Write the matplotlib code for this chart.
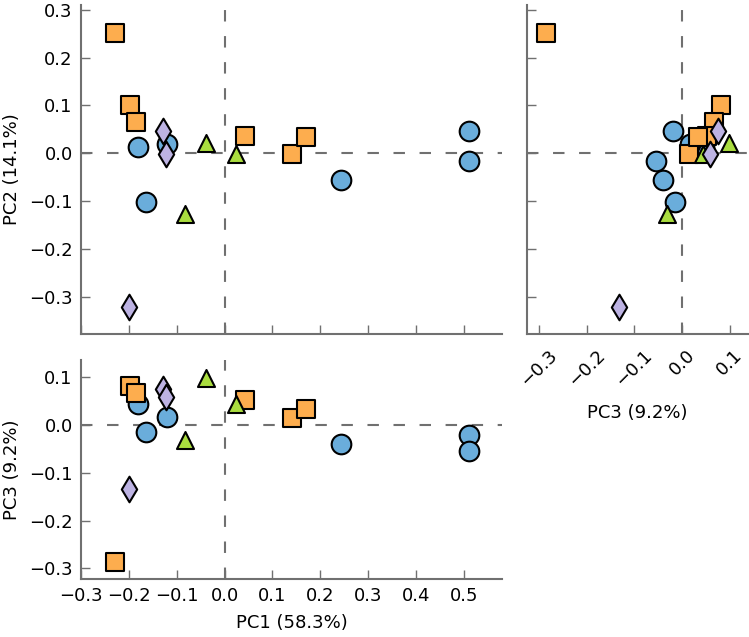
import matplotlib.pyplot as plt
import numpy as np

# PCA scores per group: PC1, PC2, PC3
circle_pc1 = [-0.181, -0.120, -0.165, 0.244, 0.510, 0.510]
circle_pc2 = [0.013, 0.020, -0.103, -0.057, 0.046, -0.016]
circle_pc3 = [0.045, 0.016, -0.014, -0.040, -0.020, -0.054]

square_pc1 = [-0.228, -0.197, -0.186, 0.043, 0.142, 0.171]
square_pc2 = [0.252, 0.100, 0.065, 0.037, -0.001, 0.034]
square_pc3 = [-0.286, 0.082, 0.067, 0.052, 0.014, 0.033]

triangle_pc1 = [-0.038, 0.025, -0.082]
triangle_pc2 = [0.022, -0.002, -0.128]
triangle_pc3 = [0.098, 0.044, -0.032]

diamond_pc1 = [-0.129, -0.123, -0.199]
diamond_pc2 = [0.047, -0.002, -0.321]
diamond_pc3 = [0.076, 0.059, -0.133]

groups = [
    (circle_pc1, circle_pc2, circle_pc3, "o", "#6aaddb", 200),
    (square_pc1, square_pc2, square_pc3, "s", "#fdad4e", 165),
    (triangle_pc1, triangle_pc2, triangle_pc3, "^", "#aadd3f", 150),
    (diamond_pc1, diamond_pc2, diamond_pc3, "d", "#bdb3e3", 170),
]

W, H = 749, 637
fig = plt.figure(figsize=(W / 100, H / 100), dpi=100)
plt.rcParams["font.family"] = "DejaVu Sans"
fs = 13

ax12 = fig.add_axes([81 / W, 1 - 334 / H, 421 / W, 329 / H])
ax32 = fig.add_axes([527 / W, 1 - 334 / H, 221 / W, 329 / H])
ax13 = fig.add_axes([81 / W, 1 - 579 / H, 421 / W, 219 / H])

gray = "#707070"


def style(ax):
    ax.spines["top"].set_visible(False)
    ax.spines["right"].set_visible(False)
    ax.spines["left"].set_color(gray)
    ax.spines["bottom"].set_color(gray)
    ax.spines["left"].set_linewidth(1.5)
    ax.spines["bottom"].set_linewidth(1.5)
    ax.tick_params(direction="in", length=6.5, width=1, color=gray, labelsize=fs, pad=6)
    ax.axhline(0, color=gray, lw=1.5, ls=(0, (5.5, 7)), zorder=1)
    ax.axvline(0, color=gray, lw=1.5, ls=(0, (5.5, 7)), zorder=1)


for ax in [ax12, ax32, ax13]:
    style(ax)

for p1, p2, p3, m, c, s in groups:
    ax12.scatter(p1, p2, marker=m, c=c, s=s, edgecolors="black", linewidths=1.5, zorder=3)
    ax32.scatter(p3, p2, marker=m, c=c, s=s, edgecolors="black", linewidths=1.5, zorder=3)
    ax13.scatter(p1, p3, marker=m, c=c, s=s, edgecolors="black", linewidths=1.5, zorder=3)

pc1_ticks = np.arange(-0.3, 0.51, 0.1)
ax12.set_xlim(-0.3, 0.58)
ax12.set_ylim(-0.378, 0.31)
ax12.set_xticks(pc1_ticks)
ax12.set_xticklabels([])
ax12.set_yticks(np.arange(-0.3, 0.31, 0.1))
ax12.set_ylabel("PC2 (14.1%)", fontsize=fs, labelpad=6)

ax32.set_xlim(-0.325, 0.138)
ax32.set_ylim(-0.378, 0.31)
ax32.set_xticks(np.arange(-0.3, 0.11, 0.1))
ax32.set_yticks(np.arange(-0.3, 0.31, 0.1))
ax32.set_yticklabels([])
ax32.tick_params(axis="x", labelrotation=45, pad=9)
ax32.set_xlabel("PC3 (9.2%)", fontsize=fs, labelpad=10)

ax13.set_xlim(-0.3, 0.58)
ax13.set_ylim(-0.322, 0.136)
ax13.set_xticks(pc1_ticks)
ax13.set_yticks(np.arange(-0.3, 0.11, 0.1))
ax13.set_xlabel("PC1 (58.3%)", fontsize=fs, labelpad=6)
ax13.set_ylabel("PC3 (9.2%)", fontsize=fs, labelpad=6)

fig.savefig("out.png", dpi=100)
